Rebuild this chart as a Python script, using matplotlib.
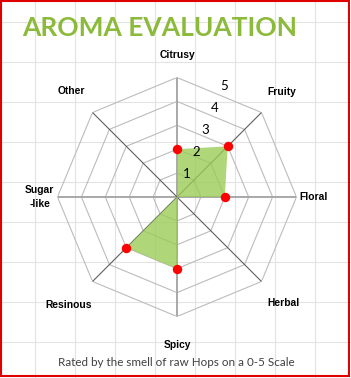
import numpy as np
import matplotlib
matplotlib.use('Agg')
import matplotlib.pyplot as plt
from matplotlib.patches import Rectangle

# Aroma radar for raw hops, scored 0-5
categories = ['Citrusy', 'Fruity', 'Floral', 'Herbal', 'Spicy', 'Resinous', 'Sugar\n-like', 'Other']
scores = [2, 3, 2, 0, 3, 3, 0, 0]
scale_levels = [1, 2, 3, 4, 5]

title_text = 'AROMA EVALUATION'
footer_text = 'Rated by the smell of raw Hops on a 0-5 Scale'

W, H = 351, 378
fig = plt.figure(figsize=(W / 100, H / 100), dpi=100)
fig.patch.set_facecolor('white')

# spreadsheet cell lines behind the chart
bg = fig.add_axes([0, 0, 1, 1])
bg.set_xlim(0, W)
bg.set_ylim(H, 0)
bg.set_axis_off()
for x in range(35, W, 40):
    bg.axvline(x, color='#e3e3e3', lw=0.8, zorder=0)
for y in range(22, H, 40):
    bg.axhline(y, color='#e3e3e3', lw=0.8, zorder=0)

# radar, centre at (177, 197) px, radius 119.5 px
cx, cy, rad = 177, 197, 119.5
ax = fig.add_axes([(cx - rad) / W, (H - cy - rad) / H, 2 * rad / W, 2 * rad / H],
                  projection='polar')
ax.set_theta_zero_location('N')
ax.set_theta_direction(-1)
ax.set_ylim(0, 5)
ax.set_axis_off()

n = len(categories)
angles = np.arange(n) * 2 * np.pi / n
closed = np.append(angles, angles[0])

# octagon rings
for lev in scale_levels:
    ax.plot(closed, [lev] * (n + 1), color='#bcbcbc', lw=0.8, zorder=1)

# spokes
for i, a in enumerate(angles):
    if i % 2 == 0:
        ax.plot([a, a], [0, 5], color='#a8a8a8', lw=1.4, zorder=2)
    else:
        ax.plot([a, a], [0, 5], color='#5f5f5f', lw=0.8, zorder=2)

vals = np.append(scores, scores[0])
ax.fill(closed, vals, color='#9acb55', alpha=0.78, lw=0, zorder=3)

pts = [(a, v) for a, v in zip(angles, scores) if v > 0]
ax.plot([p[0] for p in pts], [p[1] for p in pts], 'o', color='#ff0000',
        markersize=6.8, markeredgewidth=0, zorder=5)

# scale numbers along the first spoke
for lev in scale_levels:
    ax.text(np.deg2rad(23), lev + 0.05, str(lev), ha='center', va='center',
            fontsize=9.5, family='Lato', color='black', zorder=6)

# category labels
label_r = [5.95, 6.2, 5.1, 6.3, 6.2, 6.4, 5.75, 6.25]
for a, lab, r in zip(angles, categories, label_r):
    ha = 'left' if lab == 'Floral' else 'center'
    ax.text(a, r, lab, ha=ha, va='center', fontsize=7.4, fontweight='bold',
            family='Liberation Sans', color='black', linespacing=1.6)

fig.text(22 / W, 1 - 36 / H, title_text, ha='left', va='baseline',
         fontsize=19, fontweight='bold', family='Lato', color='#8cba3a')
fig.text(176 / W, 1 - 362 / H, footer_text, ha='center', va='center',
         fontsize=8.4, family='Lato', color='#404040')

fig.add_artist(Rectangle((1 / W, 2 / H), (W - 3) / W, (H - 3) / H,
                         transform=fig.transFigure, fill=False,
                         edgecolor='#e00000', lw=1.5))

fig.savefig('out.png', dpi=100)
